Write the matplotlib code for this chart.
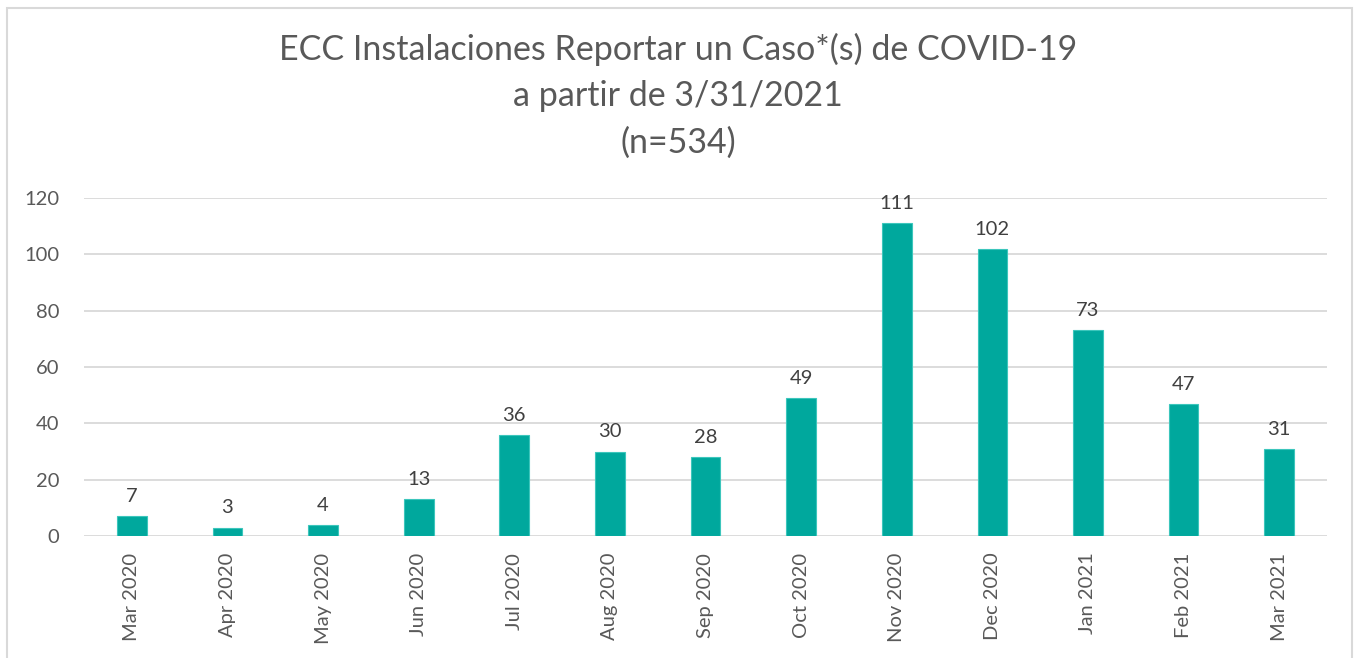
import matplotlib.pyplot as plt
from matplotlib.patches import Rectangle

months = ['Mar 2020', 'Apr 2020', 'May 2020', 'Jun 2020', 'Jul 2020', 'Aug 2020',
          'Sep 2020', 'Oct 2020', 'Nov 2020', 'Dec 2020', 'Jan 2021', 'Feb 2021',
          'Mar 2021']
cases = [7, 3, 4, 13, 36, 30, 28, 49, 111, 102, 73, 47, 31]
yticks = [0, 20, 40, 60, 80, 100, 120]

plt.rcParams['font.family'] = ['Lato', 'DejaVu Sans']
grey = '#595959'

fig = plt.figure(figsize=(13.56, 6.58), dpi=100)
ax = fig.add_axes([0.062, 0.1854, 0.9166, 0.5136])

x = range(len(months))
ax.bar(x, cases, width=0.31, color='#00A89D', edgecolor='#3CC6BC', linewidth=0.8, zorder=3)
for i, v in zip(x, cases):
    ax.annotate(str(v), (i, v), xytext=(0, 8), textcoords='offset points',
                ha='center', va='bottom', fontsize=14.5, color='#404040')

ax.set_xlim(-0.5, len(months) - 0.5)
ax.set_ylim(0, 120)
ax.set_yticks(yticks)
ax.set_xticks(list(x))
ax.set_xticklabels(months, rotation=90, fontsize=14.5, color=grey)
ax.tick_params(axis='y', labelsize=14.5, labelcolor=grey, length=0, pad=18)
ax.tick_params(axis='x', length=0, pad=12)
ax.yaxis.grid(True, color='#D9D9D9', linewidth=1.3, zorder=0)
for s in ax.spines.values():
    s.set_visible(False)

fig.text(0.5, 0.95, 'ECC Instalaciones Reportar un Caso*(s) de COVID-19\na partir de 3/31/2021\n(n=534)',
         ha='center', va='top', fontsize=24.5, color=grey, linespacing=1.55)

fig.patches.append(Rectangle((0.005, -0.05), 0.992, 1.038, transform=fig.transFigure,
                             fill=False, edgecolor='#D9D9D9', linewidth=1.5))

fig.savefig('out.png', dpi=100)
